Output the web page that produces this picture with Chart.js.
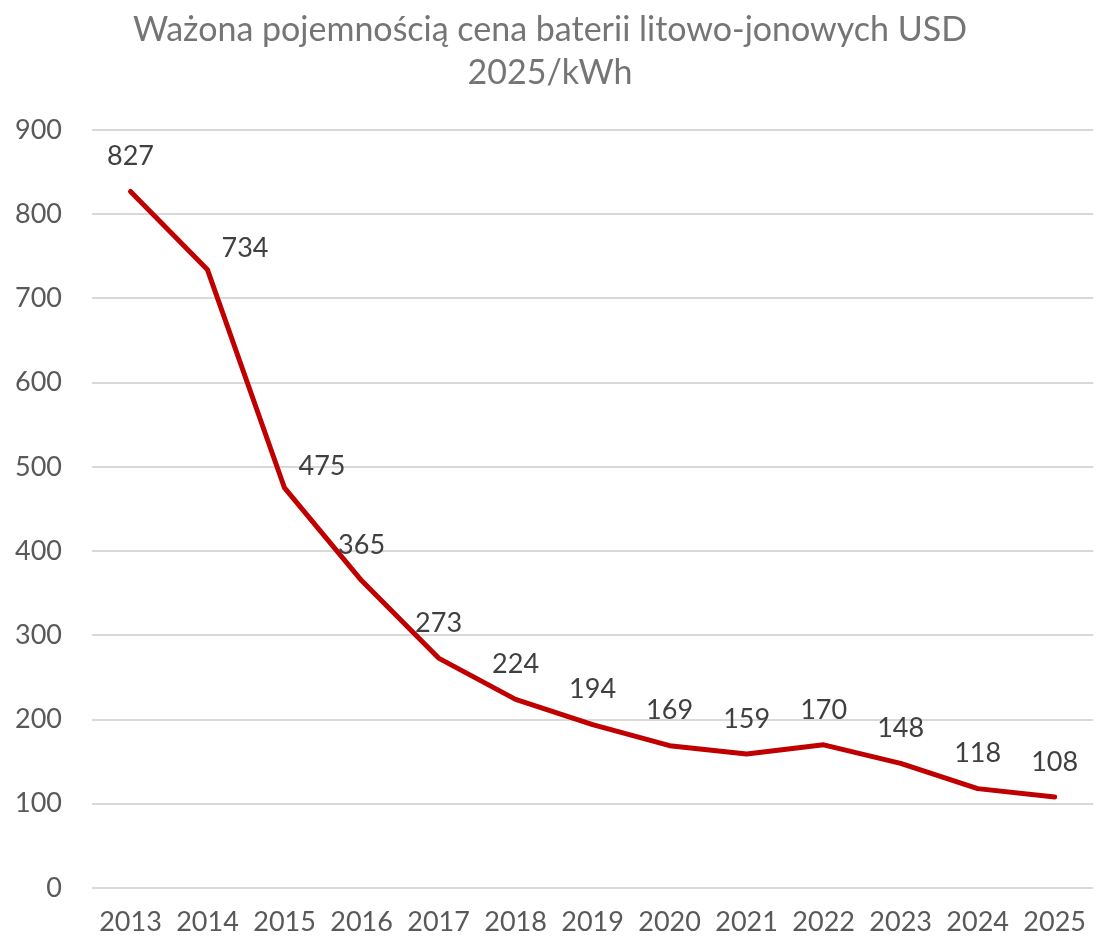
<!DOCTYPE html>
<html>
<head>
<meta charset="utf-8">
<script src="https://cdn.jsdelivr.net/npm/chart.js@4/dist/chart.umd.min.js"></script>
<style>
  body { margin: 0; background: #fff; }
</style>
</head>
<body>
<canvas id="myChart" width="1096" height="943"></canvas>
<script>
const years = ['2013', '2014', '2015', '2016', '2017', '2018', '2019', '2020', '2021', '2022', '2023', '2024', '2025'];
const prices = [827, 734, 475, 365, 273, 224, 194, 169, 159, 170, 148, 118, 108];
// where each value label sits next to its point
const labelPlace = ['above', 'right', 'right', 'above', 'above', 'above', 'above', 'above', 'above', 'above', 'above', 'above', 'above'];
const titleLines = ['Ważona pojemnością cena baterii litowo-jonowych USD', '2025/kWh'];

const FONT = 'Lato, "Noto Sans", sans-serif';

// value labels drawn at the points' positions
const valueLabels = {
    id: 'valueLabels',
    afterDatasetsDraw(chart) {
        const ctx = chart.ctx;
        const meta = chart.getDatasetMeta(0);
        ctx.save();
        ctx.font = '27px ' + FONT;
        ctx.fillStyle = '#404040';
        ctx.textBaseline = 'middle';
        meta.data.forEach((pt, i) => {
            const txt = String(prices[i]);
            if (labelPlace[i] === 'right') {
                ctx.textAlign = 'left';
                ctx.fillText(txt, pt.x + 14, pt.y - 22);
            } else {
                ctx.textAlign = 'center';
                ctx.fillText(txt, pt.x, pt.y - 35);
            }
        });
        ctx.restore();
    }
};

const ctx = document.getElementById('myChart');
const myChart = new Chart(ctx, {
    type: 'line',
    data: {
        labels: years,
        datasets: [{
            data: prices,
            borderColor: '#C00000',
            backgroundColor: '#C00000',
            borderWidth: 5,
            pointRadius: 0,
            tension: 0,
            borderCapStyle: 'round',
            borderJoinStyle: 'round'
        }]
    },
    options: {
        responsive: false,
        animation: false,
        layout: { padding: { left: 0, right: -4, top: 0, bottom: 0 } },
        plugins: {
            legend: { display: false },
            tooltip: { enabled: false },
            title: {
                display: true,
                text: titleLines,
                color: '#757575',
                font: { family: FONT, size: 34, weight: 'normal', lineHeight: 1.28 },
                padding: { top: 8, bottom: 35 }
            }
        },
        scales: {
            x: {
                offset: true,
                grid: { display: false },
                border: { display: false },
                ticks: {
                    color: '#595959',
                    font: { family: FONT, size: 27 },
                    maxRotation: 0,
                    autoSkip: false,
                    padding: 10
                },
                afterFit(axis) { axis.height = 55; }
            },
            y: {
                min: 0,
                max: 900,
                ticks: {
                    stepSize: 100,
                    color: '#595959',
                    font: { family: FONT, size: 27 },
                    padding: 30
                },
                grid: { color: '#d9d9d9', lineWidth: 2, drawTicks: false },
                border: { display: false },
                afterFit(axis) { axis.width = 92; }
            }
        }
    },
    plugins: [valueLabels]
});
</script>
</body>
</html>
